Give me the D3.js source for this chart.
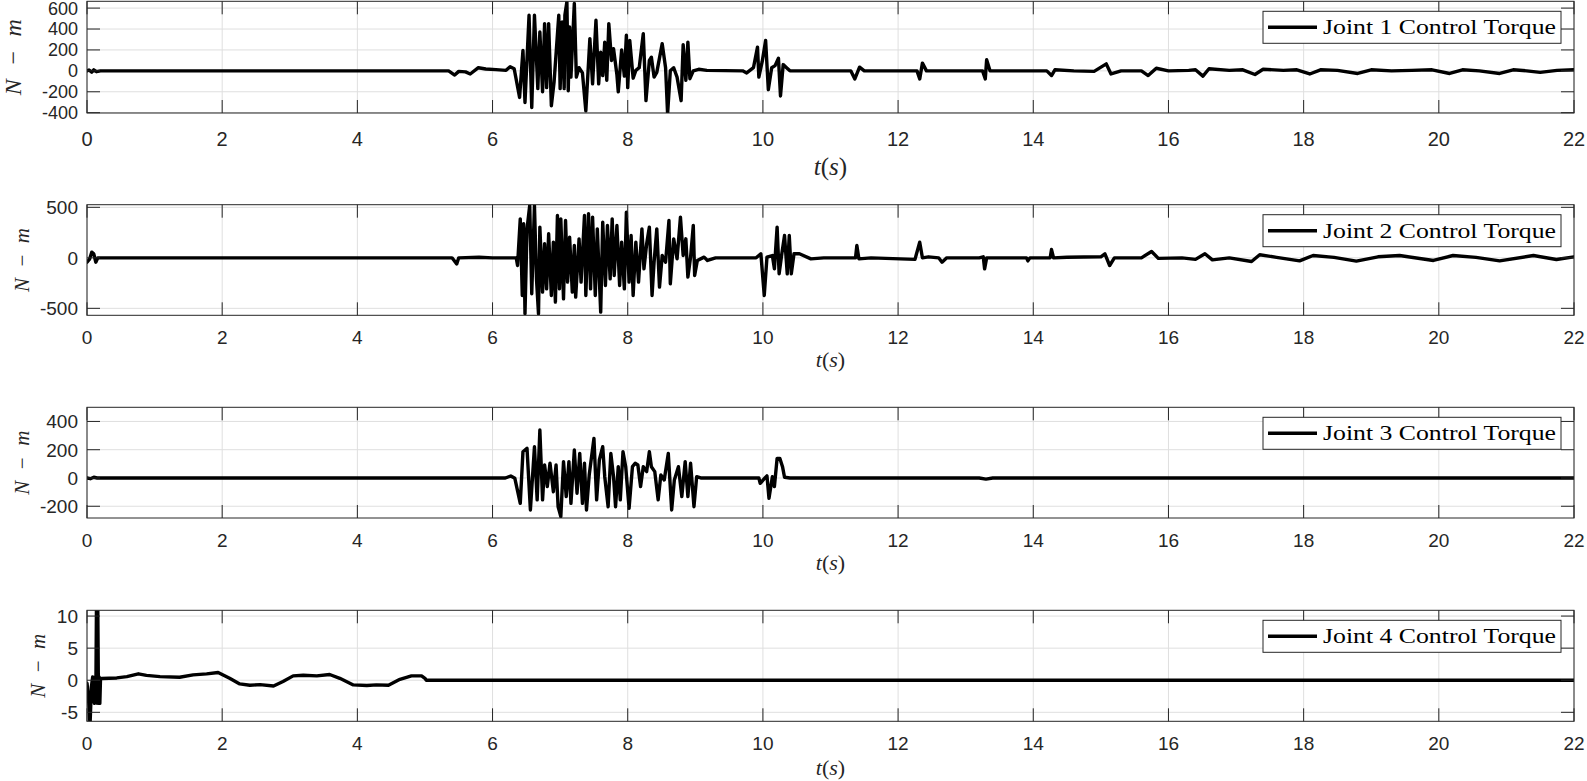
<!DOCTYPE html>
<html><head><meta charset="utf-8">
<script src="https://cdn.jsdelivr.net/npm/d3@7"></script>
<style>body{margin:0;background:#fff}</style>
</head><body>
<svg id="chart" width="1587" height="781"></svg>
<script>
// ---------------- DATA ----------------
const xTicks = [0, 2, 4, 6, 8, 10, 12, 14, 16, 18, 20, 22];
const xDomain = [0, 22];

const legendLabels = ["Joint 1 Control Torque", "Joint 2 Control Torque", "Joint 3 Control Torque", "Joint 4 Control Torque"];

const yTicks1 = [-400, -200, 0, 200, 400, 600];
const yTicks2 = [-500, 0, 500];
const yTicks3 = [-200, 0, 200, 400];
const yTicks4 = [-5, 0, 5, 10];

const yDomain1 = [-403, 665];
const yDomain2 = [-569, 526];
const yDomain3 = [-283, 500];
const yDomain4 = [-6.4, 10.9];

// [time (s), torque (N-m)]
const joint1 = [
[0,0],[0.03,8],[0.07,-12],[0.1,10],[0.14,-8],[0.2,0],
[5.35,0],[5.44,-40],[5.5,-5],[5.6,-10],[5.67,-30],[5.79,30],[5.9,18],[6.05,12],[6.2,5],[6.26,40],[6.32,20],
[6.40,-254],[6.45,195],[6.48,-302],[6.54,532],[6.58,-350],[6.62,532],[6.67,-170],[6.70,371],[6.74,-200],[6.77,452],[6.80,-160],[6.83,452],[6.87,-334],[6.91,-110],[6.98,532],[7.00,-170],[7.03,468],[7.06,-170],[7.07,532],[7.10,660],[7.12,-190],[7.14,420],[7.16,-60],[7.21,645],[7.24,-60],[7.28,30],[7.33,-20],[7.38,-382],[7.44,308],[7.48,-124],[7.53,484],[7.57,-124],[7.60,179],[7.63,-45],[7.66,275],[7.69,-90],[7.72,452],[7.76,99],[7.79,211],[7.84,-38],[7.86,-200],[7.91,200],[7.95,-50],[7.98,340],[8.00,-160],[8.03,290],[8.08,-70],[8.12,5],[8.17,30],[8.23,356],[8.27,-285],[8.32,100],[8.35,130],[8.39,-60],[8.43,-15],[8.51,260],[8.56,30],[8.59,-413],[8.63,0],[8.68,30],[8.73,-60],[8.79,-285],[8.82,250],[8.86,-90],[8.89,275],[8.92,-75],[8.97,0],[9.05,15],[9.17,5],
[9.7,0],[9.76,-20],[9.86,30],[9.92,227],[9.94,-60],[9.99,90],[10.04,291],[10.08,-180],[10.13,30],[10.18,50],[10.23,120],[10.26,-240],[10.30,60],[10.35,30],[10.40,0],
[11.3,0],[11.36,-77],[11.43,35],[11.5,0],
[12.28,0],[12.32,-77],[12.36,74],[12.42,0],
[13.25,0],[13.29,-77],[13.31,106],[13.36,0],
[14.2,0],[14.27,-45],[14.32,10],[14.6,0],[14.9,-5],[15.08,67],[15.15,-30],[15.3,0],[15.6,0],[15.70,-45],[15.82,25],[16.0,0],[16.3,5],[16.4,10],[16.51,-50],[16.6,20],[16.9,5],[17.1,10],[17.28,-35],[17.4,15],[17.7,5],[17.9,10],[18.09,-30],[18.25,10],[18.5,5],[18.8,-25],[19.0,10],[19.3,0],[19.6,5],[19.9,10],[20.16,-25],[20.35,10],[20.6,0],[20.9,-25],[21.1,10],[21.3,0],[21.5,-15],[21.75,5],[22,10]
];

const joint2 = [
[0,-43],[0.04,-10],[0.07,56],[0.1,40],[0.13,-43],[0.16,0],[0.2,0],[5.4,0],[5.47,-60],[5.5,0],[5.8,5],[6.0,0],[6.35,0],
[6.37,-76],[6.41,386],[6.44,-373],[6.46,337],[6.48,-554],[6.51,287],[6.55,518],[6.58,-356],[6.62,518],[6.65,-208],[6.68,-554],[6.70,304],[6.74,-340],[6.77,139],[6.80,-307],[6.83,238],[6.87,-373],[6.90,155],[6.93,-439],[6.96,419],[6.99,-307],[7.01,386],[7.05,-406],[7.08,370],[7.11,-241],[7.14,205],[7.18,-340],[7.21,122],[7.23,-389],[7.28,188],[7.31,-241],[7.36,419],[7.38,-373],[7.42,436],[7.45,-307],[7.48,403],[7.52,-373],[7.55,287],[7.60,-538],[7.63,353],[7.67,-274],[7.70,320],[7.74,-208],[7.77,386],[7.80,-175],[7.84,320],[7.88,-274],[7.91,155],[7.95,-307],[7.98,452],[8.02,-241],[8.05,221],[8.08,-373],[8.12,155],[8.16,-241],[8.21,287],[8.24,-109],[8.28,139],[8.32,304],[8.36,-373],[8.39,-43],[8.43,287],[8.47,-290],[8.51,23],[8.56,-43],[8.61,370],[8.63,-257],[8.68,188],[8.73,-10],[8.78,403],[8.82,23],[8.86,188],[8.89,-191],[8.93,7],[8.97,320],[8.99,-175],[9.03,-26],[9.13,7],[9.18,-26],[9.3,0],
[9.9,0],[9.97,40],[10.02,-373],[10.06,7],[10.14,23],[10.17,-109],[10.21,304],[10.24,-158],[10.28,40],[10.32,221],[10.36,-158],[10.39,221],[10.42,-158],[10.46,40],[10.54,40],[10.71,-10],[10.9,0],
[11.3,0],[11.37,0],[11.39,122],[11.42,-10],[11.6,0],
[12.25,-15],[12.32,155],[12.36,0],[12.45,10],[12.6,0],[12.65,-43],[12.72,0],[13.2,0],[13.26,10],[13.28,-109],[13.31,0],[13.9,0],[13.92,-30],[13.95,0],[14.25,0],[14.27,82],[14.30,0],[14.5,5],[15.0,10],[15.06,40],[15.13,-76],[15.2,0],[15.6,0],[15.75,63],[15.85,-5],[16.2,0],[16.4,-15],[16.54,40],[16.65,-20],[16.9,0],[17.23,-36],[17.35,30],[17.6,5],[17.94,-30],[18.14,23],[18.45,5],[18.78,-33],[19.1,10],[19.42,23],[19.92,-26],[20.21,23],[20.55,5],[20.90,-30],[21.40,23],[21.74,-17],[22,10]
];

const joint3 = [
[0,0],[0.05,-5],[0.1,5],[0.15,0],[6.19,0],[6.27,14],[6.33,-2],
[6.41,-179],[6.45,186],[6.51,210],[6.56,-226],[6.62,221],[6.66,-155],[6.70,339],[6.74,-155],[6.77,92],[6.81,-61],[6.85,104],[6.90,-97],[6.94,92],[6.97,-203],[7.01,-273],[7.05,116],[7.09,-132],[7.13,116],[7.16,-179],[7.21,198],[7.25,-108],[7.29,174],[7.33,-179],[7.36,104],[7.39,-226],[7.43,21],[7.50,280],[7.54,-155],[7.58,127],[7.63,221],[7.66,9],[7.71,-203],[7.75,174],[7.79,9],[7.82,-203],[7.86,80],[7.89,-155],[7.93,186],[7.97,80],[8.02,-214],[8.07,80],[8.11,104],[8.15,92],[8.19,-61],[8.23,80],[8.28,45],[8.32,186],[8.35,80],[8.40,45],[8.45,-155],[8.49,21],[8.54,-14],[8.60,174],[8.65,-226],[8.69,-14],[8.75,80],[8.80,-132],[8.85,116],[8.89,-132],[8.93,104],[8.98,-203],[9.02,9],[9.08,0],
[9.94,0],[9.96,-38],[10.03,0],[10.06,15],[10.09,-144],[10.14,9],[10.17,-61],[10.21,139],[10.25,139],[10.29,80],[10.32,5],[10.4,0],[13.2,0],[13.3,-8],[13.4,0],[22,0]
];

const joint4 = [
[0,-0.47],[0.02,-2.5],[0.045,-7],[0.065,-1],[0.084,0.5],[0.1,-3],[0.11,-3.6],[0.12,0.5],[0.13,-3.5],[0.14,11.5],[0.15,-3.6],[0.16,11],[0.17,-3.6],[0.18,0.5],[0.19,-3.6],[0.2,0.3],[0.217,0.26],[0.44,0.36],[0.59,0.57],[0.76,1.0],[0.88,0.75],[1.08,0.57],[1.37,0.47],[1.57,0.83],[1.77,1.0],[1.94,1.2],[2.11,0.3],[2.26,-0.57],[2.41,-0.78],[2.56,-0.68],[2.76,-0.89],[2.90,-0.2],[3.05,0.68],[3.20,0.78],[3.40,0.68],[3.59,0.89],[3.74,0.3],[3.94,-0.73],[4.14,-0.83],[4.28,-0.73],[4.46,-0.78],[4.63,0.15],[4.80,0.68],[4.95,0.68],[5.0,0.3],[5.02,0],[22,0]
];

// ---------------- LAYOUT ----------------
const series = [joint1, joint2, joint3, joint4];
const yDomains = [yDomain1, yDomain2, yDomain3, yDomain4];
const yTickSets = [yTicks1, yTicks2, yTicks3, yTicks4];
const layout = [
  {top: 1.3,   bottom: 113,   tickFont: 20, yTickFont: 18, labelFont: 24, labelLen: 76, xLabelFont: 25, yLabelX: 21, xTickBase: 146, xLabelBase: 175},
  {top: 204.7, bottom: 315.3, tickFont: 19, yTickFont: 19, labelFont: 21, labelLen: 64, xLabelFont: 22, yLabelX: 29, xTickBase: 344, xLabelBase: 366.5},
  {top: 407.3, bottom: 518,   tickFont: 19, yTickFont: 19, labelFont: 21, labelLen: 64, xLabelFont: 22, yLabelX: 29, xTickBase: 547, xLabelBase: 569.5},
  {top: 610.3, bottom: 721.3, tickFont: 19, yTickFont: 19, labelFont: 21, labelLen: 64, xLabelFont: 22, yLabelX: 45, xTickBase: 750, xLabelBase: 774.5}
];
const left = 87, right = 1574;
const axisColor = "#262626", gridColor = "#dfdfdf";
const tickLen = 13;

const svg = d3.select("#chart");
svg.append("rect").attr("width", 1587).attr("height", 781).attr("fill", "#fff");

const x = d3.scaleLinear().domain(xDomain).range([left, right]);

layout.forEach((L, i) => {
  const y = d3.scaleLinear().domain(yDomains[i]).range([L.bottom, L.top]);
  const g = svg.append("g");
  const ticksY = yTickSets[i];

  // grid
  g.selectAll(".gx").data(xTicks).enter().append("line")
    .attr("x1", d => x(d)).attr("x2", d => x(d)).attr("y1", L.top).attr("y2", L.bottom)
    .attr("stroke", gridColor).attr("stroke-width", 1);
  g.selectAll(".gy").data(ticksY).enter().append("line")
    .attr("x1", left).attr("x2", right).attr("y1", d => y(d)).attr("y2", d => y(d))
    .attr("stroke", gridColor).attr("stroke-width", 1);

  // clip
  const cid = "clip" + i;
  svg.append("clipPath").attr("id", cid).append("rect")
    .attr("x", left).attr("y", L.top).attr("width", right - left).attr("height", L.bottom - L.top);

  // line
  const line = d3.line().x(d => x(d[0])).y(d => y(d[1]));
  g.append("path").datum(series[i]).attr("d", line)
    .attr("clip-path", `url(#${cid})`)
    .attr("fill", "none").attr("stroke", "#000").attr("stroke-width", 3.4)
    .attr("stroke-linejoin", "round").attr("stroke-linecap", "round");

  // ticks (inside, all four sides)
  xTicks.forEach(t => {
    g.append("line").attr("x1", x(t)).attr("x2", x(t)).attr("y1", L.bottom).attr("y2", L.bottom - tickLen)
      .attr("stroke", axisColor).attr("stroke-width", 1);
    g.append("line").attr("x1", x(t)).attr("x2", x(t)).attr("y1", L.top).attr("y2", L.top + tickLen)
      .attr("stroke", axisColor).attr("stroke-width", 1);
  });
  ticksY.forEach(v => {
    g.append("line").attr("x1", left).attr("x2", left + tickLen).attr("y1", y(v)).attr("y2", y(v))
      .attr("stroke", axisColor).attr("stroke-width", 1);
    g.append("line").attr("x1", right).attr("x2", right - tickLen).attr("y1", y(v)).attr("y2", y(v))
      .attr("stroke", axisColor).attr("stroke-width", 1);
  });

  // box
  g.append("rect").attr("x", left).attr("y", L.top).attr("width", right - left).attr("height", L.bottom - L.top)
    .attr("fill", "none").attr("stroke", axisColor).attr("stroke-width", 1);

  // tick labels
  g.selectAll(".xl").data(xTicks).enter().append("text")
    .attr("x", d => x(d)).attr("y", L.xTickBase).attr("text-anchor", "middle")
    .attr("font-family", "Liberation Sans, Arial, sans-serif").attr("font-size", L.tickFont)
    .attr("fill", axisColor).text(d => d);
  g.selectAll(".yl").data(ticksY).enter().append("text")
    .attr("x", 78).attr("y", d => Math.max(y(d), L.yTickFont * 0.5)).attr("dy", "0.36em").attr("text-anchor", "end")
    .attr("font-family", "Liberation Sans, Arial, sans-serif").attr("font-size", L.yTickFont)
    .attr("fill", axisColor).text(d => d);

  // y label
  const cy = (L.top + L.bottom) / 2;
  const yl = g.append("text").attr("transform", `translate(${L.yLabelX},${cy}) rotate(-90)`)
    .attr("text-anchor", "middle").attr("font-family", "Liberation Serif, Times New Roman, serif")
    .attr("font-size", L.labelFont).attr("fill", axisColor)
    .attr("textLength", L.labelLen).attr("lengthAdjust", "spacing");
  yl.append("tspan").attr("font-style", "italic").text("N");
  yl.append("tspan").text(" \u2212 ");
  yl.append("tspan").attr("font-style", "italic").text("m");

  // x label t(s)
  const xl = g.append("text").attr("x", (left + right) / 2).attr("y", L.xLabelBase)
    .attr("text-anchor", "middle").attr("font-family", "Liberation Serif, Times New Roman, serif")
    .attr("font-size", L.xLabelFont).attr("fill", axisColor);
  xl.append("tspan").attr("font-style", "italic").text("t");
  xl.append("tspan").text("(");
  xl.append("tspan").attr("font-style", "italic").text("s");
  xl.append("tspan").text(")");

  // legend
  const lx = 1263, ly = L.top + 10, lw = 298, lh = 32;
  g.append("rect").attr("x", lx).attr("y", ly).attr("width", lw).attr("height", lh)
    .attr("fill", "#fff").attr("stroke", axisColor).attr("stroke-width", 1);
  g.append("line").attr("x1", lx + 5).attr("x2", lx + 54).attr("y1", ly + lh / 2).attr("y2", ly + lh / 2)
    .attr("stroke", "#000").attr("stroke-width", 3.4);
  g.append("text").attr("x", lx + 60).attr("y", ly + lh / 2).attr("dy", "0.33em")
    .attr("font-family", "Liberation Serif, Times New Roman, serif").attr("font-size", 21)
    .attr("textLength", 233).attr("lengthAdjust", "spacingAndGlyphs")
    .attr("fill", "#000").text(legendLabels[i]);
});
</script>
</body></html>
